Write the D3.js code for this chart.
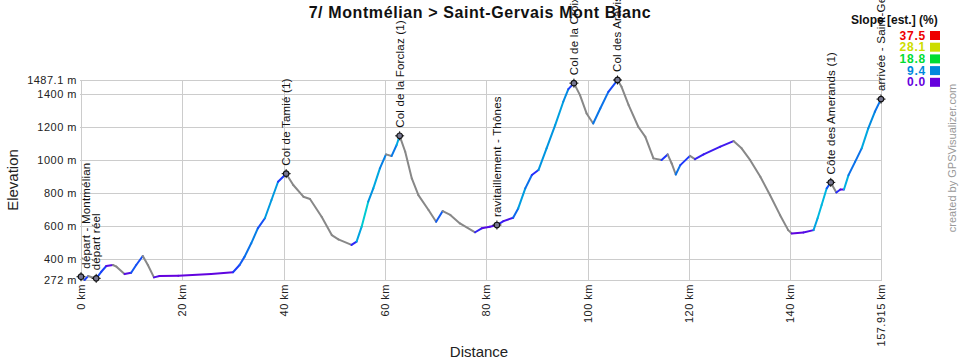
<!DOCTYPE html>
<html><head><meta charset="utf-8">
<script src="https://cdn.jsdelivr.net/npm/d3@7"></script>
<style>
html,body{margin:0;padding:0;background:#fff;}
svg{display:block;font-family:"Liberation Sans",Arial,sans-serif;}
</style></head>
<body><svg id="c" width="960" height="360"></svg>
<script>
// ---- data ----
const title = "7/ Montmélian > Saint-Gervais Mont Blanc";
const distKm = [0,0.7,1.4,2.4,3.0,4.0,5.0,6.3,7.0,8.6,9.9,10.9,12.2,13.2,14.4,15.5,19.2,25.7,30.0,31.3,32.3,33.6,34.9,36.3,37.6,38.9,40.5,
 41.9,43.9,45.2,47.5,49.5,50.8,53.4,54.4,55.4,56.7,57.7,59.0,60.2,61.3,62.3,62.9,64.0,65.3,66.6,68.6,70.1,71.4,72.9,74.8,77.8,79.1,80.7,82.1,
 83.4,85.3,86.3,87.7,89.0,90.3,91.9,93.6,95.2,96.2,97.3,98.5,99.8,101.1,102.5,104.1,105.9,106.7,108.1,110.0,111.4,113.0,114.6,115.8,116.6,117.4,118.3,
 120.2,121.2,122.9,126.2,128.8,130.4,132.1,134.1,136.0,138.0,139.6,140.3,142.6,144.6,145.4,146.2,147.2,148.0,149.1,149.9,150.6,151.5,152.8,154.1,155.4,156.7,157.915];
const elevM = [292,272,296,286,282,322,357,363,353,308,316,363,418,363,288,296,298,308,319,363,414,495,586,647,758,869,918,
 849,778,764,656,545,519,485,505,596,748,829,950,1035,1025,1092,1148,1051,889,788,697,626,691,667,616,562,586,596,606,
 630,650,707,829,910,940,1072,1213,1355,1432,1468,1395,1284,1223,1314,1415,1487,1446,1335,1203,1142,1011,1001,1035,980,913,970,
 1026,1006,1035,1082,1116,1072,1000,899,788,666,575,555,561,575,647,728,829,865,804,822,822,909,990,1072,1193,1294,1371];
const wpNames = ["départ - Montmélian","départ réel","Col de Tamié (1)","Col de la Forclaz (1)","ravitaillement - Thônes","Col de la Croix Fry","Col des Aravis (1)","Côte des Amerands (1)","arrivée - Saint-Gervais Mont Blanc"];
const wpKm = [0,3.0,40.5,62.9,82.1,97.3,105.9,148.0,157.915];
const wpElev = [292,282,918,1148,606,1468,1487,865,1371];
const yTicks = [272,400,600,800,1000,1200,1400,1487.1];
const xTicks = [0,20,40,60,80,100,120,140,157.915];
const slopeLegend = [37.5,28.1,18.8,9.4,0.0];
const slopeColors = ["#ee0000","#ccdd00","#00dd33","#0088dd","#6600dd"];

// ---- layout ----
const svg = d3.select("#c");
const L=81, R=881, T=80, B=280;
const x = d3.scaleLinear().domain([0,157.915]).range([L,R]);
const y = d3.scaleLinear().domain([272,1487.1]).range([B,T]);
const slopeColor = d3.scaleLinear()
  .domain([0,2.5,8,11,18.8,28.1,37.5])
  .range(["#6600dd","#2030ff","#0090e0","#00c8e0","#00dd33","#ccdd00","#ee0000"])
  .clamp(true);

// grid
const g = svg.append("g");
g.selectAll("line.h").data(yTicks).join("line")
  .attr("x1",L-1).attr("x2",R).attr("y1",d=>Math.round(y(d))+0.5).attr("y2",d=>Math.round(y(d))+0.5)
  .attr("stroke","#cccccc");
g.selectAll("line.v").data(xTicks).join("line")
  .attr("x1",d=>Math.round(x(d))+0.5).attr("x2",d=>Math.round(x(d))+0.5).attr("y1",T).attr("y2",B+1)
  .attr("stroke","#cccccc");

// y labels
g.selectAll("text.yl").data(yTicks).join("text")
  .attr("x",L-4).attr("y",d=>y(d)+4).attr("text-anchor","end")
  .attr("font-size",11).attr("letter-spacing","0.5px").attr("fill","#222")
  .text(d=>d+" m");
// x labels
g.selectAll("text.xl").data(xTicks).join("text")
  .attr("transform",d=>`translate(${x(d)+4},${B+4}) rotate(-90)`)
  .attr("text-anchor","end").attr("font-size",11).attr("letter-spacing","0.5px").attr("fill","#222")
  .text(d=>d+" km");

// axis titles
svg.append("text").attr("transform","translate(18,180) rotate(-90)").attr("text-anchor","middle")
  .attr("font-size",15).attr("fill","#222").text("Elevation");
svg.append("text").attr("x",479).attr("y",357).attr("text-anchor","middle")
  .attr("font-size",15).attr("fill","#222").text("Distance");

// profile segments
const pts = distKm.map((d,i)=>({d, e:elevM[i]}));
const segs = d3.pairs(pts);
svg.append("g").selectAll("line").data(segs).join("line")
  .attr("x1",p=>x(p[0].d)).attr("y1",p=>y(p[0].e))
  .attr("x2",p=>x(p[1].d)).attr("y2",p=>y(p[1].e))
  .attr("stroke",p=>{
     const s=(p[1].e-p[0].e)/((p[1].d-p[0].d)*1000)*100;
     return s < -0.3 ? "#888888" : slopeColor(Math.max(0,s));
  })
  .attr("stroke-width",2).attr("stroke-linecap","round");

// title
svg.append("text").attr("x",480).attr("y",18).attr("text-anchor","middle")
  .attr("font-size",16).attr("font-weight","bold").attr("letter-spacing","0.6px").attr("fill","#111").text(title);

// waypoints
const wps = wpNames.map((n,i)=>({n, d:wpKm[i], e:wpElev[i]}));
const wg = svg.append("g").selectAll("g").data(wps).join("g")
  .attr("transform",w=>`translate(${x(w.d)},${y(w.e)})`);
wg.append("path").attr("d","M-4.5,0H4.5M0,-4.5V4.5").attr("stroke","#111").attr("stroke-width",1);
wg.append("circle").attr("r",2.8).attr("fill","#777790").attr("stroke","#111").attr("stroke-width",1.2);
wg.append("text")
  .attr("transform",w=>`translate(${Math.max(x(w.d),L+5)-x(w.d)+4},-8) rotate(-90)`)
  .attr("font-size",11.5).attr("letter-spacing","0.2px").attr("fill","#111").text(w=>w.n);

// legend
svg.append("text").attr("x",851).attr("y",24).attr("font-size",12).attr("font-weight","bold").attr("fill","#111").text("Slope [est.] (%)");
const lg = svg.append("g").selectAll("g").data(slopeLegend).join("g")
  .attr("transform",(d,i)=>`translate(0,${31+i*11.7})`);
lg.append("rect").attr("x",930).attr("y",0).attr("width",10).attr("height",9).attr("fill",(d,i)=>slopeColors[i]);
lg.append("text").attr("x",926).attr("y",8.5).attr("text-anchor","end").attr("font-size",12).attr("font-weight","bold")
  .attr("letter-spacing","0.8px").attr("fill",(d,i)=>slopeColors[i]).text(d=>d.toFixed(1));

// credit
svg.append("text").attr("transform","translate(956,158) rotate(-90)").attr("text-anchor","middle")
  .attr("font-size",11).attr("fill","#999").text("created by GPSVisualizer.com");
</script>
</body></html>
